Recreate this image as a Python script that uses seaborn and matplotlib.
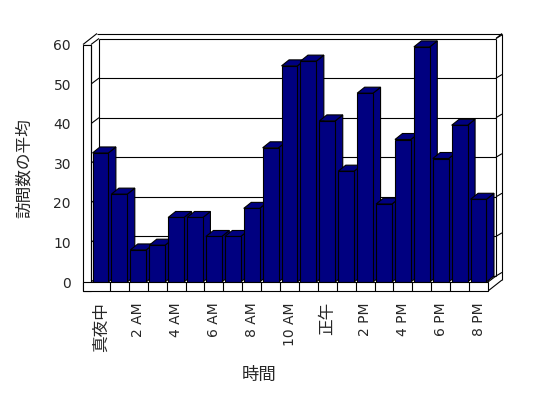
import matplotlib
matplotlib.use("Agg")
import matplotlib.pyplot as plt
from matplotlib.patches import Polygon, Rectangle
import seaborn as sns
import pandas as pd

# ---- data ----
hours = ['真夜中', '1 AM', '2 AM', '3 AM', '4 AM', '5 AM', '6 AM', '7 AM',
         '8 AM', '9 AM', '10 AM', '11 AM', '正午', '1 PM', '2 PM', '3 PM',
         '4 PM', '5 PM', '6 PM', '7 PM', '8 PM']
visits = [32.6, 22.2, 8.1, 9.3, 16.3, 16.3, 11.5, 11.5, 18.6, 33.9, 54.6,
          55.8, 40.7, 28.0, 47.7, 19.7, 36.0, 59.4, 31.2, 39.6, 20.9]
yticks = [0, 10, 20, 30, 40, 50, 60]
xlabel = '時間'
ylabel = '訪問数の平均'

sns.set_style('white')
plt.rcParams['font.family'] = ['DejaVu Sans', 'Noto Sans CJK JP']

W, H = 548, 398
fig = plt.figure(figsize=(W / 100, H / 100), dpi=100)
fig.patch.set_facecolor('white')
ax = fig.add_axes([91 / W, 1 - 282 / H, 397 / W, 237.5 / H])

df = pd.DataFrame({'hour': hours, 'visits': visits})
NAVY = '#000080'
sns.barplot(data=df, x='hour', y='visits', order=hours, color=NAVY,
            saturation=1, edgecolor='black', linewidth=0.8, width=0.84, ax=ax)

n = len(hours)
ax.set_xlim(-0.5, n - 0.5)
ax.set_ylim(0, 60)
for s in ax.spines.values():
    s.set_visible(False)

# depth vectors (data units)
px_x = 397 / n          # pixels per category
px_y = 237.5 / 60       # pixels per unit
D1 = (8 / px_x, 6 / px_y)     # back wall inner
D2 = (14 / px_x, 11 / px_y)   # back wall outer
B = (7.5 / px_x, 6 / px_y)    # bar depth
floor = -9 / px_y
xl, xr = -0.5, n - 0.5
xo = xl - 8 / px_x

LW = 0.8
kw = dict(color='black', lw=LW, clip_on=False, solid_capstyle='butt')

# back wall & gridlines
for y in yticks:
    ax.plot([xl + D1[0], xr + D1[0]], [y + D1[1], y + D1[1]], zorder=1, **kw)
    ax.plot([xl, xl + D1[0]], [y, y + D1[1]], zorder=1, **kw)
    ax.plot([xr + D1[0], xr + D2[0]], [y + D1[1], y + D1[1] + 0.9], zorder=1, **kw)
top_in = 60 + D1[1]
top_out = 60 + D2[1]
ax.plot([xo + D2[0], xr + D2[0]], [top_out, top_out], zorder=1, **kw)
ax.plot([xo, xo + D2[0]], [60, top_out], zorder=1, **kw)
ax.plot([xr + D1[0], xr + D2[0]], [top_in, top_out], zorder=1, **kw)
ax.plot([xl + D1[0]] * 2, [D1[1], top_in], zorder=1, **kw)
ax.plot([xr + D1[0]] * 2, [D1[1], top_in], zorder=1, **kw)
ax.plot([xr + D2[0]] * 2, [floor + D2[1], top_out], zorder=1, **kw)
# right floor corner
ax.plot([xr, xr + D2[0]], [floor, floor + D2[1]], zorder=1, **kw)
ax.plot([xr, xr + D1[0]], [0, D1[1]], zorder=1, **kw)

# left wall slab front
ax.add_patch(Rectangle((xo, floor), xl - xo, 60 - floor, facecolor='white',
                       edgecolor='black', lw=LW, clip_on=False, zorder=5))
ax.plot([xl, xl], [0, 60], zorder=5.1, **kw)
# floor strip
ax.add_patch(Rectangle((xo, floor), xr - xo, -floor, facecolor='white',
                       edgecolor='black', lw=LW, clip_on=False, zorder=5))
for k in range(n - 1):
    ax.plot([k + 0.5] * 2, [floor, 0], zorder=5.1, **kw)

# 3D faces of bars
for i, p in enumerate(ax.patches[:n]):
    x0, w, h = p.get_x(), p.get_width(), p.get_height()
    z = 3 + i * 0.01
    top = Polygon([(x0, h), (x0 + w, h), (x0 + w + B[0], h + B[1]), (x0 + B[0], h + B[1])],
                  closed=True, facecolor=NAVY, edgecolor='black', lw=LW, zorder=z, clip_on=False)
    side = Polygon([(x0 + w, 0), (x0 + w, h), (x0 + w + B[0], h + B[1]), (x0 + w + B[0], B[1])],
                   closed=True, facecolor=NAVY, edgecolor='black', lw=LW, zorder=z, clip_on=False)
    ax.add_patch(side)
    ax.add_patch(top)
    p.set_zorder(z + 0.005)
    p.set_clip_on(False)

# ticks
ax.set_yticks(yticks)
ax.set_yticklabels([str(v) for v in yticks], fontsize=10)
ax.tick_params(axis='y', which='both', left=True, length=8 * 0.72, width=LW,
               direction='out', pad=12 * 0.72, color='black')
ax.set_xticks(range(0, n, 2))
ax.set_xticklabels(hours[::2], rotation=90, fontsize=10)
ax.tick_params(axis='x', bottom=False, length=0, pad=20 * 0.72)
for t in ax.get_xticklabels():
    if not any(c.isascii() for c in t.get_text()):
        t.set_fontsize(12)

ax.set_xlabel(xlabel, fontsize=12.5)
ax.set_ylabel(ylabel, fontsize=12)
ax.xaxis.set_label_coords((259 - 91) / 397, (282 - 375) / 237.5)
ax.xaxis.label.set_va('center')
ax.yaxis.set_label_coords((23.5 - 91) / 397, (282 - 168) / 237.5)
ax.yaxis.label.set_va('center')

fig.savefig('out.png', dpi=100, facecolor='white')
